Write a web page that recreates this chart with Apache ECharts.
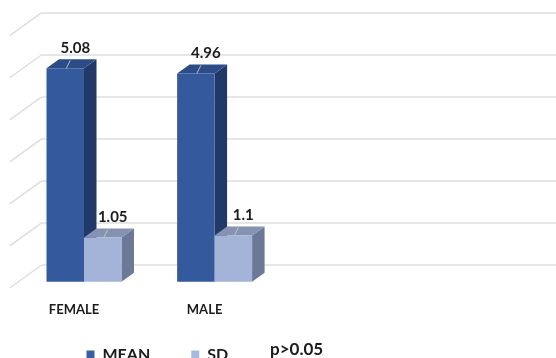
<!DOCTYPE html>
<html><head><meta charset="utf-8">
<script src="https://cdn.jsdelivr.net/npm/echarts@6/dist/echarts.min.js"></script>
<style>html,body{margin:0;padding:0;background:#fff}#chart{width:556px;height:358px}</style>
</head><body><div id="chart"></div>
<script>
// Mean and standard deviation by gender
const categories = ['FEMALE', 'MALE'];
const meanValues = [5.08, 4.96];
const sdValues = [1.05, 1.1];
const wallTicks = [0, 1, 2, 3, 4, 5, 6];
const seriesNames = ['MEAN', 'SD'];
const note = 'p>0.05';

const FONT = 'Lato, "Liberation Sans", sans-serif';
const TEXT = '#1c1c1c';
const DEPTH_X = 12.5, DEPTH_Y = -9;
const palette = {
  MEAN: { front: '#35599d', side: '#213966', top: '#2c4c88', legend: '#3a5ea6' },
  SD:   { front: '#a4b3d8', side: '#6b7896', top: '#8592b2', legend: '#a9b8de' }
};

const chart = echarts.init(document.getElementById('chart'), null, { renderer: 'canvas' });

// Pseudo-3D column: front face, right side, top face, value label with leader
function box3d(slot, colors) {
  return function (params, api) {
    const ci = api.value(0), v = api.value(1);
    const band = api.size([1, 0])[0];
    const bw = band * 0.287;
    const center = api.coord([ci, 0])[0];
    const x0 = center - bw + slot * bw;
    const x1 = x0 + bw;
    const base = api.coord([ci, 0])[1];
    const top = api.coord([ci, v])[1];
    const dx = DEPTH_X, dy = DEPTH_Y;
    const fx = x0 + bw / 2;
    return {
      type: 'group',
      children: [
        { type: 'polygon', shape: { points: [[x1, top], [x1 + dx, top + dy], [x1 + dx, base + dy], [x1, base]] }, style: { fill: colors.side } },
        { type: 'polygon', shape: { points: [[x0, top], [x0 + dx, top + dy], [x1 + dx, top + dy], [x1, top]] }, style: { fill: colors.top } },
        { type: 'rect', shape: { x: x0, y: top, width: bw, height: base - top }, style: { fill: colors.front } },
        { type: 'line', shape: { x1: fx + 1, y1: top, x2: fx + 5, y2: top - 8 }, style: { stroke: 'rgba(200,200,200,0.9)', lineWidth: 1 } },
        { type: 'text', x: fx + 10, y: top - 20, style: { text: String(v), fill: TEXT, font: 'bold 15px ' + FONT, align: 'center', verticalAlign: 'middle' } }
      ]
    };
  };
}

// Left-wall diagonals joining each back-wall gridline
function wallDiagonal(params, api) {
  const p = api.coord([0, api.value(1)]);
  return {
    type: 'line',
    shape: { x1: p[0] - 32, y1: p[1] + 23, x2: p[0], y2: p[1] },
    style: { stroke: '#dedede', lineWidth: 1.5 }
  };
}

const option = {
  backgroundColor: '#ffffff',
  animation: false,
  grid: [
    { left: 18.7, width: 261.2, top: 29.7, bottom: 76.3 },
    { left: 41.7, right: -10, top: 12.7, bottom: 93 }
  ],
  xAxis: [
    {
      type: 'category', gridIndex: 0, data: categories,
      axisLine: { show: false }, axisTick: { show: false },
      axisLabel: { margin: 22, color: TEXT, fontFamily: FONT, fontWeight: 'bold', fontSize: 13, padding: [0, 20, 0, 0] }
    },
    { type: 'value', gridIndex: 1, min: 0, max: 1, show: false }
  ],
  yAxis: [
    { type: 'value', gridIndex: 0, min: 0, max: 6, interval: 1, show: false },
    {
      type: 'value', gridIndex: 1, min: 0, max: 6, interval: 1,
      axisLine: { show: false }, axisTick: { show: false }, axisLabel: { show: false },
      splitLine: { show: true, lineStyle: { color: '#dedede', width: 1.5 } }
    }
  ],
  legend: {
    left: 86.5, top: 346, padding: 0, itemWidth: 8, itemHeight: 8, itemGap: 41, icon: 'rect',
    data: seriesNames,
    textStyle: { color: TEXT, fontFamily: FONT, fontWeight: 'bold', fontSize: 16, lineHeight: 17, padding: [0, 0, 0, 3] }
  },
  graphic: [
    { type: 'text', left: 270, top: 341, style: { text: note, fill: TEXT, font: 'bold 17px ' + FONT } }
  ],
  series: [
    {
      type: 'custom', xAxisIndex: 1, yAxisIndex: 1, silent: true, z: 1,
      data: wallTicks.map(t => [0, t]), renderItem: wallDiagonal
    },
    {
      name: 'MEAN', type: 'custom', xAxisIndex: 0, yAxisIndex: 0, z: 2,
      itemStyle: { color: palette.MEAN.legend },
      data: categories.map((c, i) => [i, meanValues[i]]), encode: { x: 0, y: 1 },
      renderItem: box3d(0, palette.MEAN)
    },
    {
      name: 'SD', type: 'custom', xAxisIndex: 0, yAxisIndex: 0, z: 3,
      itemStyle: { color: palette.SD.legend },
      data: categories.map((c, i) => [i, sdValues[i]]), encode: { x: 0, y: 1 },
      renderItem: box3d(1, palette.SD)
    }
  ]
};
chart.setOption(option);
</script>
</body></html>
